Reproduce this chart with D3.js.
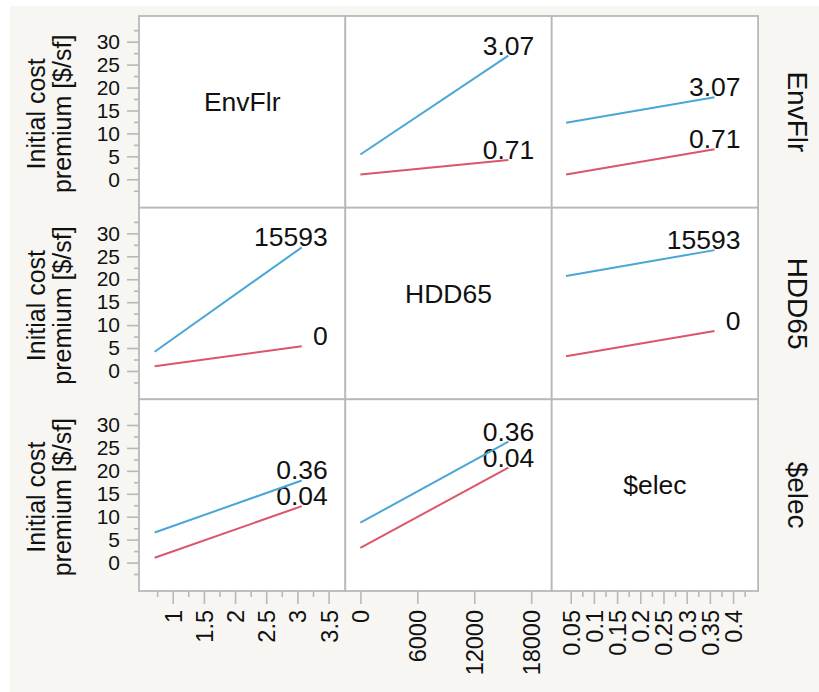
<!DOCTYPE html>
<html><head><meta charset="utf-8">
<script src="https://cdn.jsdelivr.net/npm/d3@7"></script>
<style>
body{margin:0;background:#fff}
svg{display:block}
text{font-family:"Liberation Sans",Arial,Helvetica,sans-serif;fill:#111}
</style>
</head><body>
<svg id="c" width="819" height="692"></svg>
<script>
// ---- data ----
const factors = ["EnvFlr", "HDD65", "$elec"];
const yTitleLines = ["Initial cost", "premium [$/sf]"];
const yTicks = [0, 5, 10, 15, 20, 25, 30];
const yMinorTicks = [-2.5, 2.5, 7.5, 12.5, 17.5, 22.5, 27.5, 32.5];
const envTicks = [1, 1.5, 2, 2.5, 3, 3.5];
const envMinorTicks = [0.75, 1.25, 1.75, 2.25, 2.75, 3.25];
const hddTicks = [0, 6000, 12000, 18000];
const hddMinorTicks = [];
const elecTicks = [0.05, 0.1, 0.15, 0.2, 0.25, 0.3, 0.35, 0.4];
const elecMinorTicks = [0.075, 0.125, 0.175, 0.225, 0.275, 0.325, 0.375, 0.425];
const envLevels = [0.71, 3.07];
const hddLevels = [0, 15593];
const elecLevels = [0.04, 0.36];
const envLevelLabels = ["0.71", "3.07"];
const hddLevelLabels = ["0", "15593"];
const elecLevelLabels = ["0.04", "0.36"];
// predicted premium at [low x level, high x level]; rows = trace factor, cols = x factor
const lowTraceValues = [
  [null, [1.05, 4.2], [1.05, 6.55]],
  [[1.05, 5.4], null, [3.2, 8.7]],
  [[1.05, 12.3], [3.2, 20.7], null]
];
const highTraceValues = [
  [null, [5.4, 26.95], [12.3, 17.9]],
  [[4.2, 26.95], null, [20.7, 26.35]],
  [[6.55, 17.9], [8.7, 26.35], null]
];

// ---- layout ----
const svg = d3.select("#c");
svg.append("rect").attr("x", 10).attr("y", 6).attr("width", 809).attr("height", 686).attr("fill", "#f7f6f3");

const colX = [139, 345.3, 551.7];
const rowY = [16, 207.7, 399.3];
const W = 206.4, H = 191.7;
const blue = "#4aa6d6", red = "#db5669";
const gridColor = "#b8b8b8";

const levels = [envLevels, hddLevels, elecLevels];
const levelLabels = [envLevelLabels, hddLevelLabels, elecLevelLabels];
const majorTicks = [envTicks, hddTicks, elecTicks];
const minorTicks = [envMinorTicks, hddMinorTicks, elecMinorTicks];
const xScales = [
  d3.scaleLinear().domain([0.459, 3.77]).range([0, W]),
  d3.scaleLinear().domain([-1590, 20160]).range([0, W]),
  d3.scaleLinear().domain([0.009, 0.454]).range([0, W])
];
const yScale = d3.scaleLinear().domain([-6.2, 35.6]).range([H, 0]);

// panels
for (let r = 0; r < 3; r++) {
  for (let c = 0; c < 3; c++) {
    const g = svg.append("g").attr("transform", `translate(${colX[c]},${rowY[r]})`);
    g.append("rect").attr("width", W).attr("height", H).attr("fill", "#fff")
      .attr("stroke", gridColor).attr("stroke-width", 1.8);
    if (r === c) {
      g.append("text").attr("x", W / 2).attr("y", H / 2 - 1)
        .attr("text-anchor", "middle").style("font-size", "26.5px").text(factors[r]);
      continue;
    }
    const xs = xScales[c];
    const xl = levels[c];
    const series = [
      {vals: lowTraceValues[r][c], color: red, label: levelLabels[r][0]},
      {vals: highTraceValues[r][c], color: blue, label: levelLabels[r][1]}
    ];
    const line = d3.line().x(d => xs(d[0])).y(d => yScale(d[1]));
    series.forEach(s => {
      const pts = [[xl[0], s.vals[0]], [xl[1], s.vals[1]]];
      g.append("path").attr("d", line(pts)).attr("fill", "none")
        .attr("stroke", s.color).attr("stroke-width", 2);
      g.append("text").attr("x", xs(xl[1]) + 26).attr("y", yScale(s.vals[1]) - 1)
        .attr("text-anchor", "end").style("font-size", "26.5px").text(s.label);
    });
  }
}

// y axes
function styleAxis(sel) {
  sel.select(".domain").remove();
  sel.selectAll(".tick line").attr("stroke", gridColor).attr("stroke-width", 1.6);
}
for (let r = 0; r < 3; r++) {
  const ga = svg.append("g").attr("transform", `translate(${colX[0]},${rowY[r]})`);
  ga.append("g").call(d3.axisLeft(yScale).tickValues(yMinorTicks).tickSize(5).tickFormat("")).call(styleAxis);
  const maj = ga.append("g").call(d3.axisLeft(yScale).tickValues(yTicks).tickSize(12).tickPadding(7)).call(styleAxis);
  maj.selectAll("text").attr("fill", "#111").style("font-size", "21px")
    .style("font-family", '"Liberation Sans",Arial,sans-serif');
  // y title
  const cy = rowY[r] + H / 2 + 2;
  const baseX = [45, 71];
  yTitleLines.forEach((t, i) => {
    svg.append("text").attr("transform", `translate(${baseX[i]},${cy}) rotate(-90)`)
      .attr("text-anchor", "middle").style("font-size", "25px").text(t);
  });
  // right strip label
  svg.append("text").attr("transform", `translate(788,${rowY[r] + H / 2}) rotate(90)`)
    .attr("text-anchor", "middle").style("font-size", "28px").text(factors[r]);
}

// x axes
const axisY = rowY[2] + H;
for (let c = 0; c < 3; c++) {
  const ga = svg.append("g").attr("transform", `translate(${colX[c]},${axisY})`);
  if (minorTicks[c].length)
    ga.append("g").call(d3.axisBottom(xScales[c]).tickValues(minorTicks[c]).tickSize(6).tickFormat("")).call(styleAxis);
  const maj = ga.append("g").call(d3.axisBottom(xScales[c]).tickValues(majorTicks[c]).tickSize(13).tickFormat(d => String(d))).call(styleAxis);
  maj.selectAll("text")
    .attr("transform", "rotate(-90)")
    .attr("x", -19).attr("y", 0).attr("dy", "0.36em")
    .attr("text-anchor", "end")
    .attr("fill", "#111")
    .style("font-size", "23.5px")
    .style("font-family", '"Liberation Sans",Arial,sans-serif');
}
</script>
</body></html>
